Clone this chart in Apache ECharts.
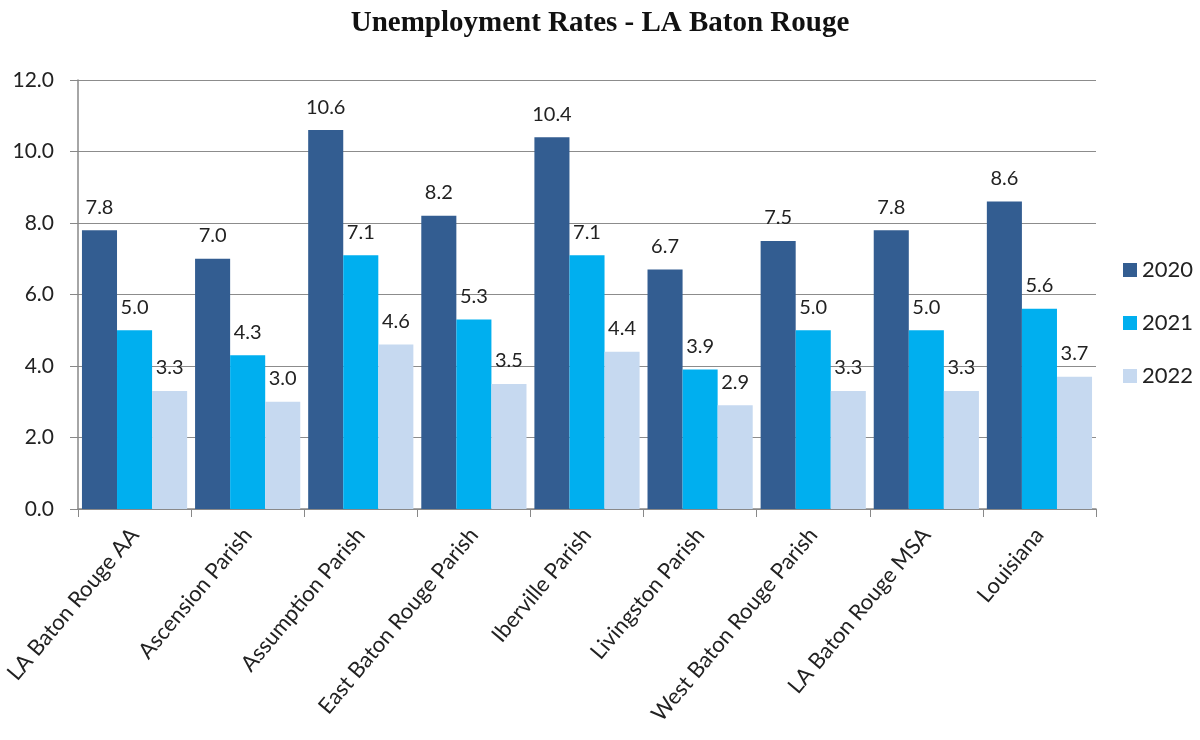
<!DOCTYPE html>
<html>
<head>
<meta charset="utf-8">
<script src="https://cdn.jsdelivr.net/npm/echarts@6/dist/echarts.min.js"></script>
<style>
  html, body { margin: 0; padding: 0; background: #fff; }
  #chart { width: 1200px; height: 740px; }
</style>
</head>
<body>
<div id="chart"></div>
<script>
// Unemployment rates (%) by area, 2020–2022
const categories = [
  'LA Baton Rouge AA', 'Ascension Parish', 'Assumption Parish',
  'East Baton Rouge Parish', 'Iberville Parish', 'Livingston Parish',
  'West Baton Rouge Parish', 'LA Baton Rouge MSA', 'Louisiana'
];
const rate2020 = [7.8, 7.0, 10.6, 8.2, 10.4, 6.7, 7.5, 7.8, 8.6];
const rate2021 = [5.0, 4.3, 7.1, 5.3, 7.1, 3.9, 5.0, 5.0, 5.6];
const rate2022 = [3.3, 3.0, 4.6, 3.5, 4.4, 2.9, 3.3, 3.3, 3.7];
const yTicks = ['0.0', '2.0', '4.0', '6.0', '8.0', '10.0', '12.0'];

const labelFont = 'Lato, "Open Sans", sans-serif';

function barSeries(name, data, color) {
  return {
    name: name,
    type: 'bar',
    data: data,
    itemStyle: { color: color },
    barGap: '0%',
    barCategoryGap: '7%',
    label: {
      show: true,
      position: 'top',
      distance: 13,
      formatter: p => p.value.toFixed(1),
      fontFamily: labelFont,
      fontSize: 20,
      color: '#222'
    }
  };
}

const chart = echarts.init(document.getElementById('chart'), null, { renderer: 'canvas' });
chart.setOption({
  animation: false,
  backgroundColor: '#fff',
  title: {
    text: 'Unemployment Rates - LA Baton Rouge',
    left: 'center',
    top: 4,
    textStyle: {
      fontFamily: '"Liberation Serif", "DejaVu Serif", serif',
      fontWeight: 'bold',
      fontSize: 29,
      color: '#111'
    }
  },
  legend: {
    orient: 'vertical',
    left: 1118,
    top: 254,
    itemWidth: 14,
    itemHeight: 14,
    itemGap: 31,
    icon: 'rect',
    textStyle: { fontFamily: labelFont, fontSize: 22, color: '#222' },
    data: ['2020', '2021', '2022']
  },
  grid: { left: 78, right: 104, top: 80, bottom: 231, containLabel: false },
  xAxis: {
    type: 'category',
    data: categories,
    axisLine: { lineStyle: { color: '#888', width: 1.5 } },
    axisTick: { show: true, length: 8, lineStyle: { color: '#888' } },
    axisLabel: {
      rotate: 50,
      interval: 0,
      margin: 22,
      fontFamily: labelFont,
      fontSize: 22,
      color: '#222'
    }
  },
  yAxis: {
    type: 'value',
    min: 0,
    max: 12,
    interval: 2,
    axisLine: { show: true, lineStyle: { color: '#888', width: 1.5 } },
    axisTick: { show: true, length: 8, lineStyle: { color: '#888' } },
    splitLine: { lineStyle: { color: '#8c8c8c', width: 1 } },
    axisLabel: {
      margin: 24,
      fontFamily: labelFont,
      fontSize: 21,
      color: '#222',
      formatter: v => yTicks[Math.round(v / 2)]
    }
  },
  series: [
    barSeries('2020', rate2020, '#335D91'),
    barSeries('2021', rate2021, '#00AFEF'),
    barSeries('2022', rate2022, '#C6D9F0')
  ]
});
</script>
</body>
</html>
